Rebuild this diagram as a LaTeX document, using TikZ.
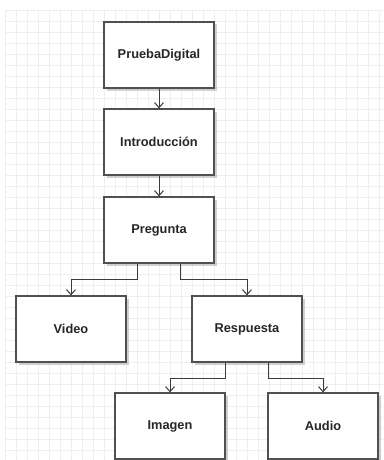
\documentclass[tikz,border=0pt]{standalone}
\usepackage{fontspec}
\setmainfont{Liberation Sans}
\usepackage{tikz}
\usetikzlibrary{calc,positioning,arrows.meta,shadows}

\definecolor{gridgray}{RGB}{238,238,238}
\definecolor{boxgray}{RGB}{80,80,80}
\definecolor{linegray}{RGB}{60,60,60}

\tikzset{
  bloque/.style={draw=boxgray, line width=1.3pt, fill=white,
    minimum width=110pt, minimum height=66pt, inner sep=0pt,
    font=\fontsize{12.8}{14}\selectfont\bfseries, text=black!85,
    drop shadow={shadow xshift=2.5pt, shadow yshift=-2.5pt, fill=black!30, opacity=0.6}},
  flecha/.style={draw=linegray, line width=1pt,
    -{Straight Barb[length=5pt,width=9pt,line width=1pt]}},
  rejilla/.style={draw=gridgray, line width=0.6pt}
}

\begin{document}
\begin{tikzpicture}[x=1pt,y=-1pt]
\useasboundingbox [fill=white] (0,0) rectangle (383,460);
% grid background
\foreach \gx in {5,16,...,383}
  \draw [rejilla] (\gx,10) -- (\gx,460);
\foreach \gy in {10,21,...,460}
  \draw [rejilla] (5,\gy) -- (383,\gy);

\node [bloque] (prueba) at (159,55) {PruebaDigital};
\node [bloque] (intro) at (159,142) {Introducción};
\node [bloque] (pregunta) at (159,230) {Pregunta};
\node [bloque] (video) at (71,329) {Video};
\node [bloque] (resp) at (247,329) {Respuesta};
\node [bloque] (imagen) at (170,426) {Imagen};
\node [bloque] (audio) at (323,426) {Audio};

\draw [flecha] (prueba) -- (intro);
\draw [flecha] (intro) -- (pregunta);
\draw [flecha] ([xshift=-22pt]pregunta.south) -- ++(0,16) -| (video.north);
\draw [flecha] ([xshift=21pt]pregunta.south) -- ++(0,16) -| (resp.north);
\draw [flecha] ([xshift=-22pt]resp.south) -- ++(0,16) -| (imagen.north);
\draw [flecha] ([xshift=21pt]resp.south) -- ++(0,16) -| (audio.north);
\end{tikzpicture}
\end{document}
